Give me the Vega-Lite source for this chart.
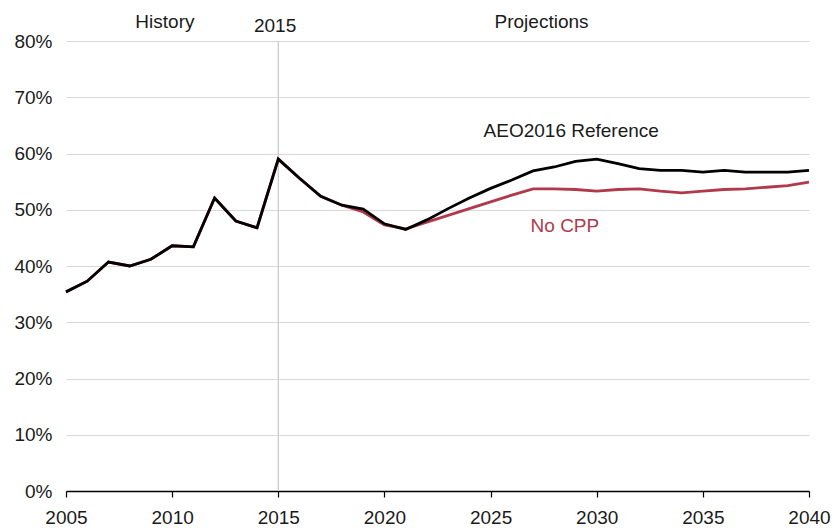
{
  "$schema": "https://vega.github.io/schema/vega-lite/v6.json",
  "width": 743,
  "height": 450,
  "autosize": {"type": "none"},
  "padding": {"left": 66, "top": 41, "right": 25, "bottom": 37},
  "background": "white",
  "config": {
    "view": {"stroke": null},
    "font": "Liberation Sans, Arial, sans-serif"
  },
  "datasets": {
    "series": [
      {"year": 2005, "series": "No CPP", "value": 35.4},
      {"year": 2006, "series": "No CPP", "value": 37.3},
      {"year": 2007, "series": "No CPP", "value": 40.7},
      {"year": 2008, "series": "No CPP", "value": 40.0},
      {"year": 2009, "series": "No CPP", "value": 41.2},
      {"year": 2010, "series": "No CPP", "value": 43.6},
      {"year": 2011, "series": "No CPP", "value": 43.4},
      {"year": 2012, "series": "No CPP", "value": 52.1},
      {"year": 2013, "series": "No CPP", "value": 48.0},
      {"year": 2014, "series": "No CPP", "value": 46.8},
      {"year": 2015, "series": "No CPP", "value": 59.0},
      {"year": 2016, "series": "No CPP", "value": 55.6},
      {"year": 2017, "series": "No CPP", "value": 52.4},
      {"year": 2018, "series": "No CPP", "value": 50.8},
      {"year": 2019, "series": "No CPP", "value": 49.6},
      {"year": 2020, "series": "No CPP", "value": 47.3},
      {"year": 2021, "series": "No CPP", "value": 46.6},
      {"year": 2022, "series": "No CPP", "value": 47.8},
      {"year": 2023, "series": "No CPP", "value": 49.0},
      {"year": 2024, "series": "No CPP", "value": 50.2},
      {"year": 2025, "series": "No CPP", "value": 51.4},
      {"year": 2026, "series": "No CPP", "value": 52.6},
      {"year": 2027, "series": "No CPP", "value": 53.7},
      {"year": 2028, "series": "No CPP", "value": 53.7},
      {"year": 2029, "series": "No CPP", "value": 53.6},
      {"year": 2030, "series": "No CPP", "value": 53.3},
      {"year": 2031, "series": "No CPP", "value": 53.6},
      {"year": 2032, "series": "No CPP", "value": 53.7},
      {"year": 2033, "series": "No CPP", "value": 53.3},
      {"year": 2034, "series": "No CPP", "value": 53.0},
      {"year": 2035, "series": "No CPP", "value": 53.3},
      {"year": 2036, "series": "No CPP", "value": 53.6},
      {"year": 2037, "series": "No CPP", "value": 53.7},
      {"year": 2038, "series": "No CPP", "value": 54.0},
      {"year": 2039, "series": "No CPP", "value": 54.3},
      {"year": 2040, "series": "No CPP", "value": 54.9},
      {"year": 2005, "series": "AEO2016 Reference", "value": 35.4},
      {"year": 2006, "series": "AEO2016 Reference", "value": 37.3},
      {"year": 2007, "series": "AEO2016 Reference", "value": 40.7},
      {"year": 2008, "series": "AEO2016 Reference", "value": 40.0},
      {"year": 2009, "series": "AEO2016 Reference", "value": 41.2},
      {"year": 2010, "series": "AEO2016 Reference", "value": 43.6},
      {"year": 2011, "series": "AEO2016 Reference", "value": 43.4},
      {"year": 2012, "series": "AEO2016 Reference", "value": 52.1},
      {"year": 2013, "series": "AEO2016 Reference", "value": 48.0},
      {"year": 2014, "series": "AEO2016 Reference", "value": 46.8},
      {"year": 2015, "series": "AEO2016 Reference", "value": 59.0},
      {"year": 2016, "series": "AEO2016 Reference", "value": 55.6},
      {"year": 2017, "series": "AEO2016 Reference", "value": 52.4},
      {"year": 2018, "series": "AEO2016 Reference", "value": 50.8},
      {"year": 2019, "series": "AEO2016 Reference", "value": 50.1},
      {"year": 2020, "series": "AEO2016 Reference", "value": 47.5},
      {"year": 2021, "series": "AEO2016 Reference", "value": 46.5},
      {"year": 2022, "series": "AEO2016 Reference", "value": 48.2},
      {"year": 2023, "series": "AEO2016 Reference", "value": 50.2},
      {"year": 2024, "series": "AEO2016 Reference", "value": 52.1},
      {"year": 2025, "series": "AEO2016 Reference", "value": 53.8},
      {"year": 2026, "series": "AEO2016 Reference", "value": 55.3},
      {"year": 2027, "series": "AEO2016 Reference", "value": 56.9},
      {"year": 2028, "series": "AEO2016 Reference", "value": 57.6},
      {"year": 2029, "series": "AEO2016 Reference", "value": 58.6},
      {"year": 2030, "series": "AEO2016 Reference", "value": 59.0},
      {"year": 2031, "series": "AEO2016 Reference", "value": 58.2},
      {"year": 2032, "series": "AEO2016 Reference", "value": 57.3},
      {"year": 2033, "series": "AEO2016 Reference", "value": 57.0},
      {"year": 2034, "series": "AEO2016 Reference", "value": 57.0},
      {"year": 2035, "series": "AEO2016 Reference", "value": 56.7},
      {"year": 2036, "series": "AEO2016 Reference", "value": 57.0},
      {"year": 2037, "series": "AEO2016 Reference", "value": 56.7},
      {"year": 2038, "series": "AEO2016 Reference", "value": 56.7},
      {"year": 2039, "series": "AEO2016 Reference", "value": 56.7},
      {"year": 2040, "series": "AEO2016 Reference", "value": 57.0}
    ],
    "labels": [
      {"year": 2009.66, "value": 83.4, "text": "History", "kind": "plain"},
      {"year": 2014.85, "value": 82.6, "text": "2015", "kind": "plain"},
      {"year": 2027.4, "value": 83.4, "text": "Projections", "kind": "plain"},
      {"year": 2028.8, "value": 64.0, "text": "AEO2016 Reference", "kind": "plain"},
      {"year": 2028.5, "value": 47.1, "text": "No CPP", "kind": "red"}
    ],
    "marker": [{"year": 2015}]
  },
  "layer": [
    {
      "data": {"name": "marker"},
      "mark": {"type": "rule", "color": "#c8c8c8", "strokeWidth": 1.2},
      "encoding": {
        "x": {"field": "year", "type": "quantitative", "scale": {"domain": [2005, 2040], "nice": false, "zero": false},
          "axis": {"values": [2005, 2010, 2015, 2020, 2025, 2030, 2035, 2040], "format": "d", "title": null,
            "grid": false, "domainColor": "#000000", "domainWidth": 1.5, "tickColor": "#000000", "tickSize": 6, "tickWidth": 1.2,
            "labelFontSize": 19, "labelColor": "#1a1a1a", "labelPadding": 11, "labelFlush": false}}
      }
    },
    {
      "data": {"name": "series"},
      "transform": [{"filter": "datum.series === 'No CPP'"}],
      "mark": {"type": "line", "color": "#b03a4b", "strokeWidth": 2.8},
      "encoding": {
        "x": {"field": "year", "type": "quantitative"},
        "y": {"field": "value", "type": "quantitative", "scale": {"domain": [0, 80], "nice": false},
          "axis": {"values": [0, 10, 20, 30, 40, 50, 60, 70, 80], "labelExpr": "datum.value + '%'", "title": null,
            "domain": false, "ticks": false, "grid": true, "gridColor": "#d9d9d9", "gridWidth": 1.2,
            "labelFontSize": 19, "labelColor": "#1a1a1a", "labelPadding": 14}}
      }
    },
    {
      "data": {"name": "series"},
      "transform": [{"filter": "datum.series === 'AEO2016 Reference'"}],
      "mark": {"type": "line", "color": "#000000", "strokeWidth": 2.8},
      "encoding": {
        "x": {"field": "year", "type": "quantitative"},
        "y": {"field": "value", "type": "quantitative"}
      }
    },
    {
      "data": {"name": "labels"},
      "mark": {"type": "text", "fontSize": 19, "align": "center", "baseline": "middle", "clip": false},
      "encoding": {
        "x": {"field": "year", "type": "quantitative"},
        "y": {"field": "value", "type": "quantitative"},
        "text": {"field": "text"},
        "color": {"field": "kind", "type": "nominal", "scale": {"domain": ["plain", "red"], "range": ["#1a1a1a", "#b03a4b"]}, "legend": null}
      }
    }
  ]
}
